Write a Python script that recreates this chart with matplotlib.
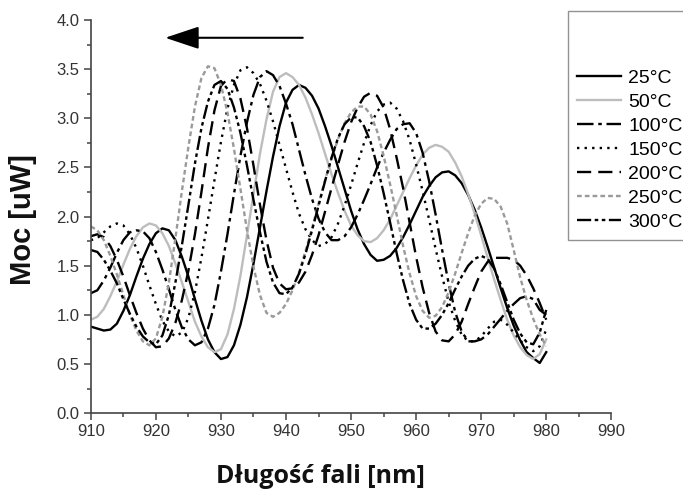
import matplotlib
matplotlib.use("Agg")
import matplotlib.pyplot as plt
from matplotlib.ticker import MultipleLocator

# wavelength grid [nm] and power readings [uW] for each temperature
wavelength = list(range(910, 981))

p_25 = [0.88, 0.86, 0.84, 0.85, 0.91, 1.04, 1.20, 1.39, 1.57, 1.72,
        1.83, 1.88, 1.86, 1.76, 1.59, 1.39, 1.16, 0.94, 0.75, 0.62,
        0.55, 0.57, 0.69, 0.90, 1.18, 1.52, 1.89, 2.26, 2.61, 2.92,
        3.16, 3.29, 3.34, 3.31, 3.23, 3.10, 2.92, 2.72, 2.50, 2.28,
        2.06, 1.87, 1.72, 1.61, 1.55, 1.56, 1.60, 1.68, 1.79, 1.92,
        2.06, 2.20, 2.31, 2.40, 2.45, 2.46, 2.42, 2.34, 2.22, 2.07,
        1.89, 1.69, 1.48, 1.27, 1.07, 0.89, 0.74, 0.62, 0.56, 0.51, 0.62]

p_50 = [0.95, 0.98, 1.06, 1.19, 1.34, 1.51, 1.67, 1.80, 1.89, 1.93,
        1.91, 1.83, 1.70, 1.52, 1.33, 1.13, 0.93, 0.78, 0.67, 0.62,
        0.65, 0.80, 1.06, 1.40, 1.81, 2.23, 2.64, 2.99, 3.27, 3.42,
        3.46, 3.42, 3.34, 3.21, 3.04, 2.85, 2.64, 2.43, 2.24, 2.06,
        1.91, 1.81, 1.75, 1.74, 1.78, 1.86, 1.97, 2.11, 2.25, 2.39,
        2.52, 2.63, 2.70, 2.73, 2.71, 2.66, 2.55, 2.41, 2.23, 2.03,
        1.81, 1.58, 1.36, 1.15, 0.95, 0.79, 0.67, 0.59, 0.55, 0.60, 0.75]

p_100 = [1.22, 1.25, 1.35, 1.48, 1.63, 1.76, 1.84, 1.86, 1.85, 1.78,
         1.64, 1.46, 1.26, 1.05, 0.87, 0.75, 0.69, 0.72, 0.86, 1.10,
         1.44, 1.82, 2.23, 2.62, 2.96, 3.24, 3.42, 3.48, 3.44, 3.33,
         3.15, 2.94, 2.68, 2.42, 2.18, 1.98, 1.84, 1.76, 1.76, 1.80,
         1.89, 2.02, 2.17, 2.33, 2.50, 2.65, 2.78, 2.89, 2.94, 2.95,
         2.85, 2.65, 2.36, 2.02, 1.66, 1.32, 1.03, 0.83, 0.73, 0.73,
         0.75, 0.80, 0.88, 0.96, 1.04, 1.11, 1.17, 1.19, 1.16, 1.05, 1.00]

p_150 = [1.76, 1.78, 1.84, 1.90, 1.93, 1.91, 1.82, 1.68, 1.50, 1.30,
         1.11, 0.94, 0.83, 0.78, 0.82, 0.97, 1.23, 1.58, 1.97, 2.37,
         2.76, 3.10, 3.34, 3.49, 3.52, 3.46, 3.35, 3.18, 2.97, 2.73,
         2.49, 2.25, 2.03, 1.87, 1.76, 1.70, 1.72, 1.79, 1.93, 2.11,
         2.32, 2.54, 2.75, 2.93, 3.07, 3.14, 3.16, 3.10, 2.97, 2.78,
         2.53, 2.26, 1.97, 1.67, 1.39, 1.13, 0.94, 0.80, 0.73, 0.73,
         0.78, 0.86, 0.93, 0.95, 0.90, 0.82, 0.74, 0.67, 0.63, 0.68, 0.85]

p_200 = [1.80, 1.82, 1.79, 1.70, 1.56, 1.39, 1.20, 1.02, 0.86, 0.74,
         0.67, 0.68, 0.76, 0.92, 1.15, 1.45, 1.82, 2.25, 2.70, 3.08,
         3.33, 3.40, 3.38, 3.20, 2.90, 2.52, 2.12, 1.76, 1.48, 1.32,
         1.26, 1.27, 1.33, 1.44, 1.61, 1.81, 2.05, 2.29, 2.53, 2.76,
         2.96, 3.11, 3.22, 3.26, 3.23, 3.11, 2.89, 2.60, 2.29, 1.94,
         1.59, 1.28, 1.02, 0.83, 0.74, 0.73, 0.80, 0.93, 1.11, 1.28,
         1.44, 1.54, 1.58, 1.58, 1.58, 1.56, 1.50, 1.40, 1.27, 1.12, 0.95]

p_250 = [1.90, 1.86, 1.76, 1.60, 1.41, 1.20, 1.00, 0.84, 0.73, 0.69,
         0.76, 0.98, 1.33, 1.78, 2.26, 2.71, 3.12, 3.41, 3.53, 3.51,
         3.34, 3.06, 2.69, 2.28, 1.86, 1.49, 1.20, 1.02, 0.98, 1.02,
         1.11, 1.25, 1.43, 1.65, 1.88, 2.13, 2.37, 2.59, 2.79, 2.95,
         3.06, 3.12, 3.12, 3.04, 2.87, 2.62, 2.33, 2.02, 1.70, 1.42,
         1.19, 1.04, 0.97, 0.99, 1.08, 1.23, 1.42, 1.63, 1.83, 2.01,
         2.13, 2.19, 2.18, 2.10, 1.93, 1.66, 1.38, 1.15, 0.96, 0.80, 0.68]

p_300 = [1.66, 1.64, 1.56, 1.45, 1.32, 1.16, 1.01, 0.88, 0.78, 0.72,
         0.70, 0.79, 1.00, 1.33, 1.71, 2.12, 2.54, 2.90, 3.17, 3.34,
         3.38, 3.30, 3.11, 2.85, 2.52, 2.17, 1.84, 1.54, 1.33, 1.22,
         1.21, 1.28, 1.42, 1.62, 1.86, 2.11, 2.36, 2.60, 2.80, 2.94,
         3.01, 3.01, 2.92, 2.76, 2.52, 2.24, 1.94, 1.63, 1.35, 1.11,
         0.95, 0.86, 0.86, 0.91, 1.00, 1.12, 1.26, 1.39, 1.50, 1.57,
         1.60, 1.57, 1.47, 1.31, 1.13, 0.95, 0.81, 0.72, 0.70, 0.82, 1.05]

labels = ["25°C", "50°C", "100°C", "150°C", "200°C", "250°C", "300°C"]

# colour, dash pattern for each curve
styles = [
    ("black", "-"),
    ("#bdbdbd", "-"),
    ("black", (0, (7, 2, 1.5, 2))),
    ("black", (0, (1, 2.2))),
    ("black", (0, (6, 3))),
    ("#9a9a9a", (0, (2, 1.3))),
    ("black", (0, (6, 1.5, 1.5, 1.5, 1.5, 1.5))),
]

fig = plt.figure(figsize=(6.83, 4.90), dpi=100)
ax = fig.add_axes([0.133, 0.157, 0.762, 0.802])

for lab, vals, (col, ls) in zip(labels, [p_25, p_50, p_100, p_150, p_200, p_250, p_300], styles):
    ax.plot(wavelength, vals, color=col, linestyle=ls, linewidth=1.7, label=lab)

ax.set_xlim(910, 990)
ax.set_ylim(0, 4.0)
ax.xaxis.set_major_locator(MultipleLocator(10))
ax.xaxis.set_minor_locator(MultipleLocator(5))
ax.yaxis.set_major_locator(MultipleLocator(0.5))
ax.yaxis.set_minor_locator(MultipleLocator(0.25))
ax.yaxis.set_major_formatter(plt.FormatStrFormatter("%.1f"))

for side in ["top", "right"]:
    ax.spines[side].set_visible(False)
for side in ["left", "bottom"]:
    ax.spines[side].set_color("#444444")
    ax.spines[side].set_linewidth(1.2)

ax.tick_params(which="major", direction="out", length=5, width=1.1, color="#444444",
               labelsize=12, labelcolor="#333333", pad=3)
ax.tick_params(which="minor", direction="out", length=3, width=1.1, color="#444444")
for t in ax.get_xticklabels() + ax.get_yticklabels():
    t.set_fontfamily("Liberation Sans")

fig.text(23 / 683, 1 - 220 / 490, "Moc [uW]", fontsize=21, fontweight="bold",
         family="Liberation Sans", rotation=90, ha="center", va="center", color="#111111")
fig.text(320 / 683, 1 - 476 / 490, "Długość fali [nm]", fontsize=18, fontweight="bold",
         family="Open Sans", ha="center", va="center", color="#111111")

# shift direction arrow
ax.annotate("", xy=(921.0, 3.82), xytext=(943.0, 3.82),
            arrowprops=dict(arrowstyle="-|>,head_length=1.5,head_width=0.5",
                            color="black", lw=1.5, mutation_scale=14))

leg = ax.legend(loc="upper left", bbox_to_anchor=(568 / 683, 1 - 11 / 490),
                bbox_transform=fig.transFigure, borderaxespad=0, frameon=True,
                fancybox=False, edgecolor="#777777", title=" \n ",
                title_fontsize=15, prop={"family": "Liberation Sans", "size": 14},
                handlelength=2.3, handletextpad=0.35, labelspacing=0.33,
                borderpad=0.45)
leg.get_frame().set_linewidth(1.0)

fig.savefig("out.png", dpi=100)
